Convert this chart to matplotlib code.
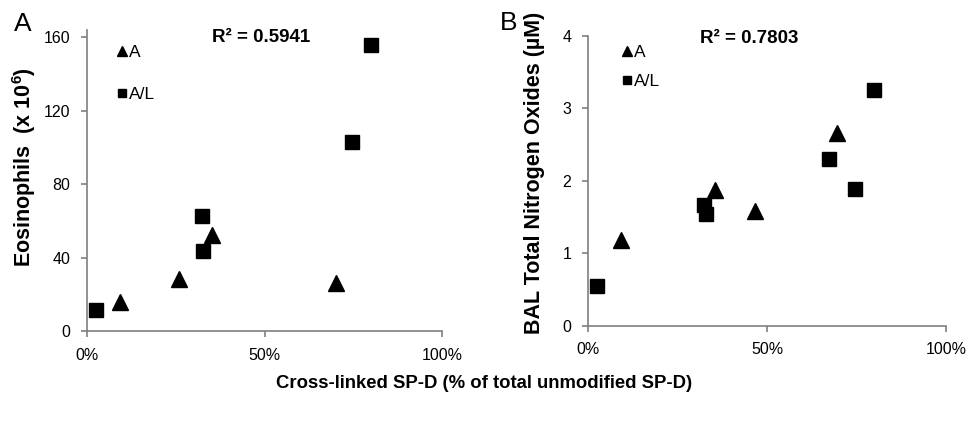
import matplotlib
matplotlib.use("Agg")
import matplotlib.pyplot as plt
from matplotlib.ticker import FuncFormatter

plt.rcParams['font.family'] = ['Liberation Sans', 'DejaVu Sans']
plt.rcParams['mathtext.fontset'] = 'custom'
plt.rcParams['mathtext.bf'] = 'Liberation Sans:bold'
plt.rcParams['mathtext.rm'] = 'Liberation Sans'

# panel A: eosinophils
a_tri_x = [9.3, 25.9, 35.2, 70.1]
a_tri_y = [15.6, 28.4, 52.3, 26.2]
a_sq_x = [2.4, 32.3, 32.8, 74.6, 79.9]
a_sq_y = [11.2, 62.6, 43.8, 103.2, 155.9]

# panel B: nitrogen oxides
b_tri_x = [9.3, 35.4, 46.7, 69.6]
b_tri_y = [1.19, 1.87, 1.58, 2.66]
b_sq_x = [2.5, 32.4, 32.9, 67.2, 74.6, 80.0]
b_sq_y = [0.55, 1.67, 1.54, 2.30, 1.89, 3.26]

fig = plt.figure(figsize=(9.68, 4.24), dpi=100)
axA = fig.add_axes([0.0899, 0.2193, 0.3667, 0.7097])
axB = fig.add_axes([0.6074, 0.2318, 0.3699, 0.6833])

pct = FuncFormatter(lambda v, p: '%d%%' % v)


def style(ax):
    for s in ['top', 'right']:
        ax.spines[s].set_visible(False)
    for s in ['left', 'bottom']:
        ax.spines[s].set_color('#7f7f7f')
        ax.spines[s].set_linewidth(1.2)
    ax.tick_params(direction='out', length=4, width=1.2, color='#7f7f7f',
                   labelsize=11.5, pad=8)
    ax.set_xlim(0, 100)
    ax.set_xticks([0, 50, 100])
    ax.xaxis.set_major_formatter(pct)


def markers(ax, tx, ty, sx, sy):
    ax.plot(tx, ty, '^', color='black', markersize=12, linestyle='none',
            label='A', clip_on=False)
    ax.plot(sx, sy, 's', color='black', markersize=10, linestyle='none',
            label='A/L', clip_on=False)


style(axA)
markers(axA, a_tri_x, a_tri_y, a_sq_x, a_sq_y)
axA.set_ylim(0, 164)
axA.set_yticks([0, 40, 80, 120, 160])
axA.legend(loc='upper left', bbox_to_anchor=(0.06, 0.98), frameon=False,
           markerscale=0.6, handlelength=0.6, handletextpad=0.1,
           labelspacing=1.55, fontsize=12.5, borderpad=0)
axA.text(0.49, 0.975, 'R² = 0.5941', transform=axA.transAxes, ha='center',
         va='center', fontsize=13.5, fontweight='bold')

style(axB)
markers(axB, b_tri_x, b_tri_y, b_sq_x, b_sq_y)
axB.set_ylim(0, 4)
axB.set_yticks([0, 1, 2, 3, 4])
axB.legend(loc='upper left', bbox_to_anchor=(0.07, 1.0), frameon=False,
           markerscale=0.6, handlelength=0.6, handletextpad=0.1,
           labelspacing=0.8, fontsize=12.5, borderpad=0)
axB.text(0.45, 0.99, 'R² = 0.7803', transform=axB.transAxes, ha='center',
         va='center', fontsize=13.5, fontweight='bold')

fig.text(0.025, 0.606, r'Eosinophils  (x 10$^{\mathbf{6}}$)', rotation=90,
         ha='center', va='center', fontsize=15.5, fontweight='bold')
fig.text(0.552, 0.592, 'BAL Total Nitrogen Oxides (µM)', rotation=90,
         ha='center', va='center', fontsize=15.5, fontweight='bold')
fig.text(0.5, 0.095, 'Cross-linked SP-D (% of total unmodified SP-D)',
         ha='center', va='center', fontsize=13.3, fontweight='bold')
fig.text(0.024, 0.943, 'A', ha='center', va='center', fontsize=19)
fig.text(0.525, 0.946, 'B', ha='center', va='center', fontsize=19)

fig.savefig('out.png', dpi=100)
